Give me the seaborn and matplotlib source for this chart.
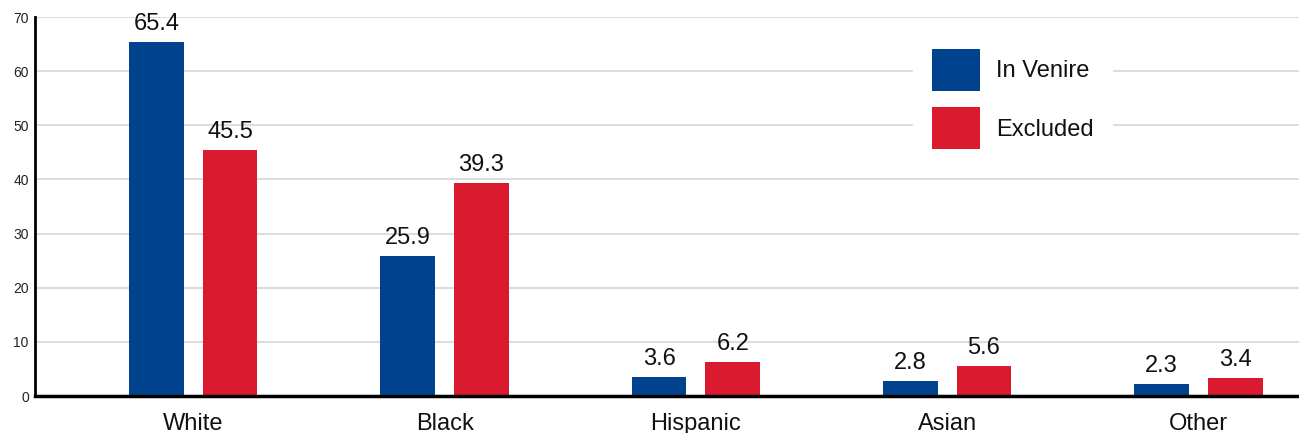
import matplotlib
matplotlib.use("Agg")
import matplotlib.pyplot as plt
import seaborn as sns
import pandas as pd

# ---- data ----
categories = ["White", "Black", "Hispanic", "Asian", "Other"]
in_venire = [65.4, 25.9, 3.6, 2.8, 2.3]
excluded = [45.5, 39.3, 6.2, 5.6, 3.4]
series_names = ["In Venire", "Excluded"]
y_ticks = [0, 10, 20, 30, 40, 50, 60, 70]

BLUE = "#00428E"
RED = "#DA1A2E"

df = pd.DataFrame({
    "Race": categories * 2,
    "Percent": in_venire + excluded,
    "Group": [series_names[0]] * len(categories) + [series_names[1]] * len(categories),
})

sns.set_theme(style="white")
plt.rcParams["font.family"] = ["Liberation Sans", "DejaVu Sans"]

W, H = 1299, 433
fig = plt.figure(figsize=(W / 100, H / 100), dpi=100)
ax = fig.add_axes([35 / W, 37 / H, (W - 35) / W, 379 / H])

sns.barplot(data=df, x="Race", y="Percent", hue="Group", order=categories,
            hue_order=series_names, palette=[BLUE, RED], saturation=1,
            width=0.586, gap=0.257, errorbar=None, linewidth=0, ax=ax)

for cont in ax.containers:
    ax.bar_label(cont, fmt="%.1f", padding=5, fontsize=17, color="#111111")

ax.set_ylim(0, 70)
ax.set_xlim(-0.63, 4.40)
ax.set_yticks(y_ticks)
ax.set_yticklabels([str(t) for t in y_ticks])
ax.yaxis.grid(True, color="#DDDDDD", linewidth=1.5)
ax.set_axisbelow(True)
ax.tick_params(axis="y", length=0, pad=4.5, labelsize=10, labelcolor="#222222")
ax.tick_params(axis="x", length=0, pad=12, labelsize=17, labelcolor="#111111")
ax.set_xlabel("")
ax.set_ylabel("")

for s in ["top", "right"]:
    ax.spines[s].set_visible(False)
ax.spines["left"].set_color("black")
ax.spines["left"].set_linewidth(2)
ax.spines["bottom"].set_color("black")
ax.spines["bottom"].set_linewidth(2.5)

handles, labels = ax.get_legend_handles_labels()
if ax.get_legend() is not None:
    ax.get_legend().remove()
leg = fig.legend(handles, labels, loc="upper left",
                 bbox_to_anchor=(913 / W, 1 - 30 / H),
                 bbox_transform=fig.transFigure, borderaxespad=0,
                 fontsize=17, frameon=True, facecolor="white", edgecolor="white",
                 framealpha=1, fancybox=False, handlelength=2.03, handleheight=2.36,
                 labelspacing=0.7, handletextpad=0.68, borderpad=0.8)
for t in leg.get_texts():
    t.set_color("#111111")

fig.savefig("out.png", dpi=100)
